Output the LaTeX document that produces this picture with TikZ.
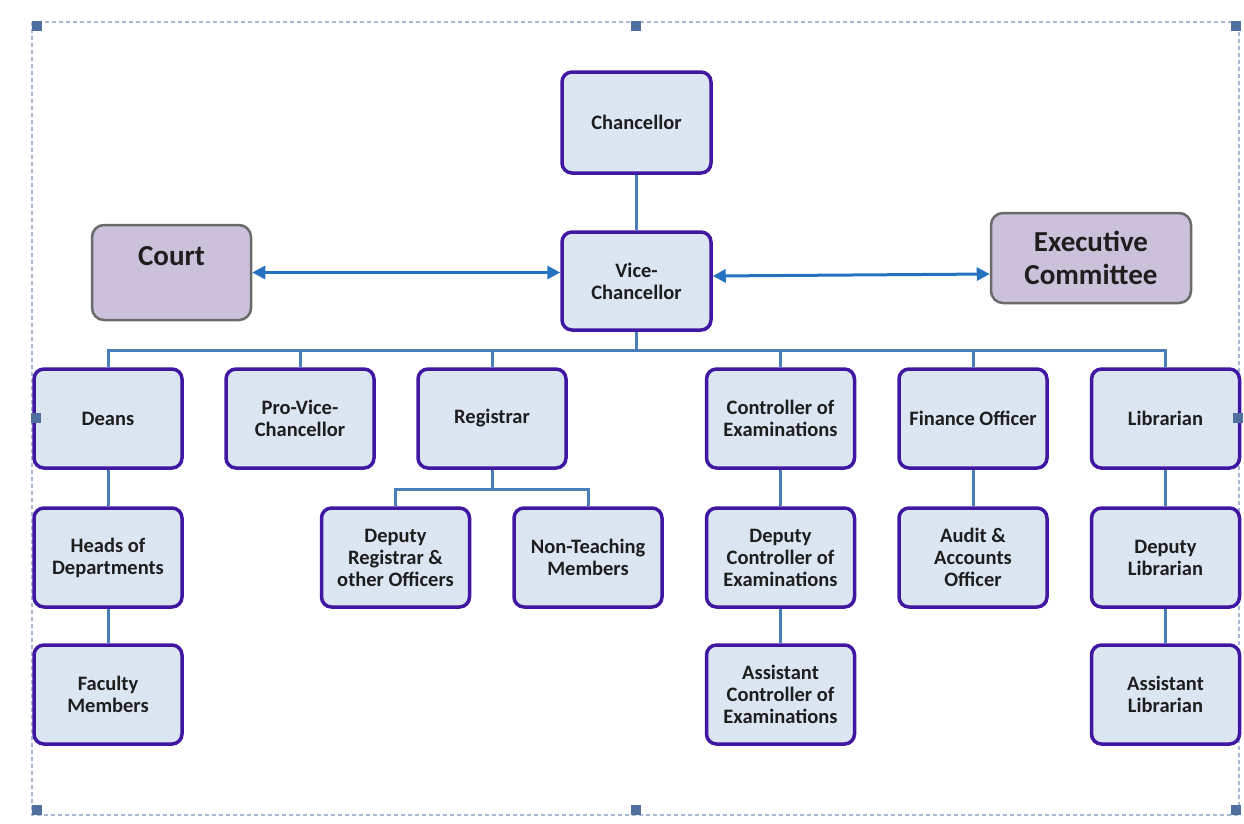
\documentclass[tikz,border=0pt]{standalone}
\usepackage{fontspec}
\setmainfont{Carlito}
\usetikzlibrary{arrows.meta}
\definecolor{boxfill}{HTML}{DCE6F2}
\definecolor{boxline}{HTML}{3F17A3}
\definecolor{sidefill}{HTML}{CCC1DA}
\definecolor{sideline}{HTML}{6B6B6B}
\definecolor{connc}{HTML}{4A7EBB}
\definecolor{arrc}{HTML}{2472C0}
\definecolor{framec}{HTML}{A8B8D0}
\definecolor{handlec}{HTML}{4F6F9F}
\definecolor{txt}{HTML}{1E1E1E}
\tikzset{
  orgbox/.style={draw=boxline, fill=boxfill, line width=3.5pt, rounded corners=10pt,
    minimum width=148pt, minimum height=99pt, align=center, inner sep=2pt,
    text=txt, font=\fontsize{20.5}{22}\selectfont\bfseries},
  sidebox/.style={draw=sideline, fill=sidefill, line width=2.5pt, rounded corners=12pt,
    align=center, text=txt, font=\fontsize{29}{33}\selectfont\bfseries},
  conn/.style={draw=connc, line width=3pt},
  biarrow/.style={draw=arrc, line width=3pt, {Triangle[length=13pt,width=13pt]}-{Triangle[length=13pt,width=13pt]}},
  framebox/.style={draw=framec, line width=2pt, dash pattern=on 4pt off 3pt},
  handle/.style={fill=handlec, minimum size=9.5pt, inner sep=0pt, draw=none}
}
\begin{document}
\begin{tikzpicture}[x=1pt,y=-1pt]
\useasboundingbox (0,0) rectangle (1244,823);
% frame
\draw[framebox] (32,22) rectangle (1239,815);

% nodes
\node[orgbox, minimum width=149pt, minimum height=101pt] (chan) at (636.5,122.5) {Chancellor};
\node[orgbox, minimum width=149pt, minimum height=98pt] (vc) at (636.5,281) {Vice-\\Chancellor};
\node[sidebox, minimum width=159pt, minimum height=95pt] (court) at (171.5,272.5) {Court\\\mbox{}};
\node[sidebox, minimum width=200pt, minimum height=90pt] (exec) at (1091,258) {Executive\\Committee};

\node[orgbox] (deans) at (108,418.5) {Deans};
\node[orgbox] (pvc) at (300,418.5) {Pro-Vice-\\Chancellor};
\node[orgbox] (reg) at (492,418.5) {Registrar};
\node[orgbox] (coe) at (780.5,418.5) {Controller of\\Examinations};
\node[orgbox] (fin) at (973,418.5) {Finance Officer};
\node[orgbox] (lib) at (1165.5,418.5) {Librarian};

\node[orgbox] (hod) at (108,557.5) {Heads of\\Departments};
\node[orgbox] (dreg) at (395.5,557.5) {Deputy\\Registrar \&\\other Officers};
\node[orgbox] (ntm) at (588,557.5) {Non-Teaching\\Members};
\node[orgbox] (dcoe) at (780.5,557.5) {Deputy\\Controller of\\Examinations};
\node[orgbox] (aud) at (973,557.5) {Audit \&\\Accounts\\Officer};
\node[orgbox] (dlib) at (1165.5,557.5) {Deputy\\Librarian};

\node[orgbox] (fac) at (108,694.5) {Faculty\\Members};
\node[orgbox] (acoe) at (780.5,694.5) {Assistant\\Controller of\\Examinations};
\node[orgbox] (alib) at (1165.5,694.5) {Assistant\\Librarian};

% connectors
\draw[conn] (chan.south) -- (vc.north);
\draw[conn] (vc.south) -- ++(0,19) coordinate (bus);
\draw[conn] (deans.north) -- (deans.north |- bus) -- (lib.north |- bus) -- (lib.north);
\foreach \n in {pvc,reg,coe,fin}
  \draw[conn] (\n.north) -- (\n.north |- bus);
\draw[conn] (reg.south) -- ++(0,20) coordinate (rbus);
\draw[conn] (dreg.north) -- (dreg.north |- rbus) -- (ntm.north |- rbus) -- (ntm.north);
\draw[conn] (deans.south) -- (hod.north);
\draw[conn] (hod.south) -- (fac.north);
\draw[conn] (coe.south) -- (dcoe.north);
\draw[conn] (dcoe.south) -- (acoe.north);
\draw[conn] (fin.south) -- (aud.north);
\draw[conn] (lib.south) -- (dlib.north);
\draw[conn] (dlib.south) -- (alib.north);

% arrows
\draw[biarrow] (court.east) -- (vc.west |- court.east);
\draw[biarrow] ([yshift=5pt]vc.east) -- ([yshift=-16pt]exec.west);

% selection handles on top
\foreach \hx/\hy [count=\i] in {37/26,636/26,1236/26,36/418,1238/418,37/810,636/810,1236/810}
  \node[handle] (h\i) at (\hx,\hy) {};
\end{tikzpicture}
\end{document}
